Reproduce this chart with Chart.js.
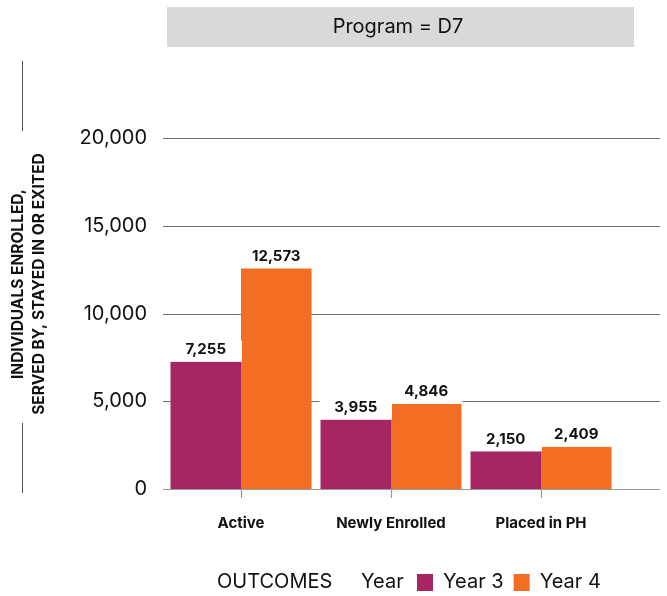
<!DOCTYPE html>
<html><head><meta charset="utf-8">
<script src="https://cdn.jsdelivr.net/npm/chart.js@4"></script>
<style>html,body{margin:0;padding:0;background:#fff}canvas{display:block}</style>
</head><body>
<canvas id="c" width="667" height="596"></canvas>
<script>
const categories = ['Active', 'Newly Enrolled', 'Placed in PH'];
const year3 = [7255, 3955, 2150];
const year4 = [12573, 4846, 2409];
const seriesNames = ['Year 3', 'Year 4'];
const seriesColors = ['#A52662', '#F36E23'];
const yTicks = [0, 5000, 10000, 15000, 20000];
const panelTitle = 'Program = D7';
const yTitle = ['INDIVIDUALS ENROLLED,', 'SERVED BY, STAYED IN OR EXITED'];
const xTitle = 'OUTCOMES';
const legendTitle = 'Year';

const FONT = 'Inter, "Open Sans", Arial, sans-serif';
const fmt = v => v.toLocaleString('en-US');

const decor = {
  id: 'decor',
  beforeDatasetsDraw(chart) {
    const ctx = chart.ctx, y = chart.scales.y, x = chart.scales.x, a = chart.chartArea;
    ctx.save();
    yTicks.forEach(t => {
      const py = Math.round(y.getPixelForValue(t)) + 0.5;
      ctx.strokeStyle = t === 0 ? '#9a9a9a' : '#6e6e6e';
      ctx.lineWidth = 1.2;
      ctx.beginPath(); ctx.moveTo(a.left - 3, py); ctx.lineTo(660, py); ctx.stroke();
    });
    categories.forEach((c, i) => {
      const px = Math.round(x.getPixelForValue(i)) + 0.5;
      ctx.strokeStyle = '#9a9a9a'; ctx.lineWidth = 1.2;
      ctx.beginPath(); ctx.moveTo(px, a.bottom); ctx.lineTo(px, a.bottom + 9); ctx.stroke();
    });
    ctx.restore();
  },
  afterDatasetsDraw(chart) {
    const ctx = chart.ctx;
    ctx.save();
    chart.data.datasets.forEach((ds, di) => {
      chart.getDatasetMeta(di).data.forEach((el, i) => {
        const w = el.width;
        ctx.fillStyle = '#fff';
        ctx.fillRect(el.x - w / 2 - 1, el.y - 21, w + 2, 21);
      });
    });
    chart.data.datasets.forEach((ds, di) => {
      chart.getDatasetMeta(di).data.forEach((el, i) => {
        ctx.fillStyle = '#111';
        ctx.font = 'bold 15px ' + FONT;
        ctx.textAlign = 'center'; ctx.textBaseline = 'middle';
        ctx.fillText(fmt(ds.data[i]), el.x, el.y - 12);
      });
    });
    ctx.restore();
  },
  afterDraw(chart) {
    const ctx = chart.ctx, a = chart.chartArea;
    ctx.save();
    // panel title
    ctx.fillStyle = '#D9D9D9';
    ctx.fillRect(167, 7, 467, 40);
    ctx.fillStyle = '#111';
    ctx.font = '20px ' + FONT;
    ctx.textAlign = 'center'; ctx.textBaseline = 'middle';
    ctx.fillText(panelTitle, 398, 27);
    // y title
    const cy = 284;
    ctx.save();
    ctx.translate(0, cy);
    ctx.rotate(-Math.PI / 2);
    ctx.font = 'bold 15.5px ' + FONT;
    ctx.fillText(yTitle[0], 0, 18);
    ctx.fillText(yTitle[1], 0, 39);
    ctx.restore();
    ctx.strokeStyle = '#555'; ctx.lineWidth = 1;
    ctx.beginPath(); ctx.moveTo(22.5, 61); ctx.lineTo(22.5, 131); ctx.stroke();
    ctx.beginPath(); ctx.moveTo(22.5, 423); ctx.lineTo(22.5, 493); ctx.stroke();
    // legend row
    const ly = 582;
    ctx.font = '20px ' + FONT;
    ctx.textAlign = 'left'; ctx.textBaseline = 'middle';
    ctx.fillStyle = '#111';
    let lx = 217;
    ctx.fillText(xTitle, lx, ly);
    lx = 361;
    ctx.fillText(legendTitle, lx, ly);
    lx = 417;
    chart.data.datasets.forEach(ds => {
      ctx.fillStyle = ds.backgroundColor;
      ctx.fillRect(lx, ly - 8, 16, 17);
      lx += 16 + 10;
      ctx.fillStyle = '#111';
      ctx.fillText(ds.label, lx, ly);
      lx += ctx.measureText(ds.label).width + 10;
    });
    ctx.restore();
  }
};

new Chart(document.getElementById('c'), {
  type: 'bar',
  data: {
    labels: categories,
    datasets: [
      { label: seriesNames[0], data: year3, backgroundColor: seriesColors[0] },
      { label: seriesNames[1], data: year4, backgroundColor: seriesColors[1] }
    ]
  },
  options: {
    responsive: false,
    animation: false,
    devicePixelRatio: 1,
    layout: { padding: { top: 138, right: 51, left: 0, bottom: 0 } },
    datasets: { bar: { categoryPercentage: 0.94, barPercentage: 1.0 } },
    plugins: { legend: { display: false }, tooltip: { enabled: false } },
    scales: {
      x: {
        grid: { display: false, drawTicks: false },
        border: { display: false },
        ticks: { color: '#111', font: { family: FONT, size: 15, weight: 'bold' }, padding: 25, maxRotation: 0 },
        afterFit: s => { s.height = 596 - 489; }
      },
      y: {
        min: 0, max: 20000,
        grid: { display: false, drawTicks: false },
        border: { display: false },
        afterBuildTicks: s => { s.ticks = yTicks.map(v => ({ value: v })); },
        ticks: { color: '#111', font: { family: FONT, size: 20 }, padding: 19, callback: v => fmt(v) },
        afterFit: s => { s.width = 166; }
      }
    }
  },
  plugins: [decor]
});
</script>
</body></html>
